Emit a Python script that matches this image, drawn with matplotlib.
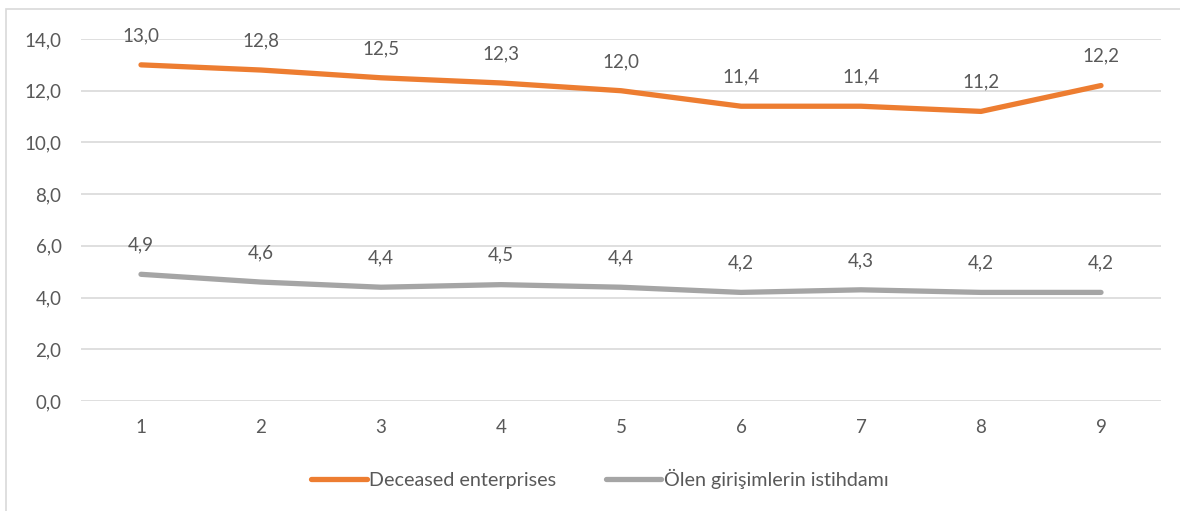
import matplotlib.pyplot as plt
from matplotlib.patches import Rectangle
from matplotlib.lines import Line2D

categories = [1, 2, 3, 4, 5, 6, 7, 8, 9]
deceased = [13.0, 12.8, 12.5, 12.3, 12.0, 11.4, 11.4, 11.2, 12.2]
employment = [4.9, 4.6, 4.4, 4.5, 4.4, 4.2, 4.3, 4.2, 4.2]
series_names = ["Deceased enterprises", "Ölen girişimlerin istihdamı"]
yticks = [0, 2, 4, 6, 8, 10, 12, 14]

plt.rcParams['font.family'] = ['Lato', 'DejaVu Sans']
text_color = '#595959'
orange = '#ED7D31'
gray = '#A5A5A5'
fs = 13.5

fig = plt.figure(figsize=(11.8, 5.11), dpi=100)
fig.patches.append(Rectangle((6 / 1180, -0.1), 1.1, 1.1 - 9 / 511,
                             transform=fig.transFigure, fill=False,
                             edgecolor='#d9d9d9', linewidth=1.2))

ax = fig.add_axes([81 / 1180, 110 / 511, 1080 / 1180, 362 / 511])

for vals, color in [(deceased, orange), (employment, gray)]:
    ax.plot(categories, vals, color=color, linewidth=3.8, solid_capstyle='round',
            solid_joinstyle='round', zorder=3)
    for x, v in zip(categories, vals):
        ax.annotate(f"{v:.1f}".replace('.', ','), (x, v), xytext=(0, 15),
                    textcoords='offset points', ha='center', va='bottom',
                    fontsize=fs, color=text_color, annotation_clip=False)

ax.set_xlim(0.5, 9.5)
ax.set_ylim(0, 14)
ax.set_yticks(yticks)
ax.set_yticklabels([f"{t:.1f}".replace('.', ',') for t in yticks])
ax.set_xticks(categories)
ax.grid(axis='y', color='#d9d9d9', linewidth=1.2)
ax.set_axisbelow(True)
for s in ax.spines.values():
    s.set_visible(False)
ax.tick_params(axis='both', length=0, labelsize=fs, labelcolor=text_color)
ax.tick_params(axis='y', pad=14)
ax.tick_params(axis='x', pad=13)

handles = [Line2D([], [], color=orange, linewidth=3.8, solid_capstyle='round'),
           Line2D([], [], color=gray, linewidth=3.8, solid_capstyle='round')]
leg = fig.legend(handles, series_names, loc='center', bbox_to_anchor=(600 / 1180, 1 - 479 / 511),
                 ncol=2, frameon=False, fontsize=14.2, handlelength=2.8,
                 handletextpad=0.15, columnspacing=2.5)
for t in leg.get_texts():
    t.set_color(text_color)

fig.savefig('out.png', dpi=100)
